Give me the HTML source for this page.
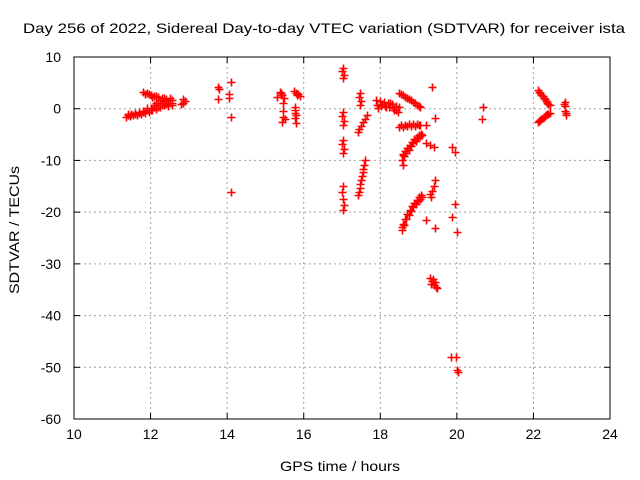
<!DOCTYPE html>
<html><head><meta charset="utf-8"><style>
body{margin:0;background:#fff;}
svg{display:block;font-family:"Liberation Sans",sans-serif;}
</style></head><body>
<svg id="chart" width="640" height="480" viewBox="0 0 640 480">
<rect width="640" height="480" fill="#fff"/>
<text x="324" y="33" font-size="14" text-anchor="middle" textLength="602" lengthAdjust="spacingAndGlyphs">Day 256 of 2022, Sidereal Day-to-day VTEC variation (SDTVAR) for receiver ista</text>
<text x="340" y="471" font-size="14" text-anchor="middle" textLength="120" lengthAdjust="spacingAndGlyphs">GPS time / hours</text>
<text x="0" y="0" font-size="14" text-anchor="middle" textLength="128" lengthAdjust="spacingAndGlyphs" transform="translate(19,230) rotate(-90)">SDTVAR / TECUs</text>
<g id="grid"></g><g id="axes"></g><g id="marks"></g>
</svg>
<script>
const xTicks=[10,12,14,16,18,20,22,24];
const yTicks=[10,0,-10,-20,-30,-40,-50,-60];
const hours=[
11.35,11.45,11.55,11.65,11.75,11.85,11.95,12.05,12.15,12.25,12.35,12.45,12.55,11.4,11.6,11.8,12.0,12.2,12.4,12.55,12.5,11.9,12.1,11.5,11.7,12.3,12.45,
11.4,11.5,11.6,11.7,11.8,11.9,12.0,12.1,12.2,12.3,12.4,12.5,12.55,12.35,12.15,
11.8,11.9,12.0,12.1,12.2,12.3,12.4,12.5,11.85,12.05,12.25,11.95,12.15,12.35,
12.85,12.85,12.8,12.9,
13.76,13.76,13.78,14.1,14.05,14.05,14.1,14.1,
15.38,15.43,15.48,15.3,15.46,15.46,15.46,15.44,15.5,15.41,
15.75,15.8,15.85,15.9,15.78,15.78,15.78,15.8,15.76,15.8,15.83,
17.02,17.0,17.04,17.02,17.47,17.45,17.5,17.47,17.02,17.0,17.04,17.02,
17.65,17.6,17.55,17.5,17.45,17.42,17.02,17.0,17.04,17.02,
17.6,17.58,17.56,17.54,17.52,17.5,17.48,17.46,17.44,17.42,
17.02,17.0,17.02,17.04,17.02,
17.9,18.0,18.1,18.2,18.3,18.4,18.5,17.95,18.15,18.35,18.45,18.05,18.25,17.92,18.02,18.12,18.22,18.32,18.42,
18.5,18.6,18.7,18.8,18.9,19.0,19.04,19.35,19.43,18.55,18.65,18.75,18.85,18.95,
18.5,18.6,18.7,18.8,18.9,19.0,19.04,19.2,18.55,18.65,18.75,18.85,18.95,
18.56,18.62,18.68,18.74,18.8,18.86,18.92,18.98,19.04,19.09,18.6,18.6,18.59,18.65,18.71,18.77,18.83,18.89,18.95,19.01,19.07,
19.2,19.3,19.4,19.87,19.95,
18.56,18.62,18.68,18.74,18.8,18.86,18.92,18.98,19.04,19.09,18.58,18.59,18.65,18.71,18.77,18.83,18.89,18.95,19.01,19.07,
19.43,19.4,19.36,19.32,19.3,19.2,19.43,19.87,19.95,20.0,
20.68,20.65,
22.12,22.18,22.24,22.3,22.36,22.43,22.12,22.18,22.24,22.3,22.36,22.43,22.15,22.21,22.27,22.33,22.39,22.15,22.21,22.27,22.33,22.39,
22.82,22.82,22.82,22.85,22.8,22.84,
19.3,19.35,19.4,19.45,19.48,19.33,19.38,19.43,19.85,19.98,20.0,20.02
];
const values=[
-1.6,-1.5,-1.3,-1.2,-1.0,-0.8,-0.6,-0.3,0,0.4,0.8,1.2,1.6,-1.0,-0.8,-0.5,0.1,0.7,1.5,0.8,2.0,0.2,0.8,-1.1,-0.9,1.1,0.6,
-1.2,-1.0,-1.0,-0.7,-0.7,-0.3,-0.2,0.3,0.3,0.7,1.0,1.6,1.2,1.5,1.2,
3.2,3.0,2.7,2.4,2.2,2.0,1.8,1.7,2.8,2.2,1.6,2.9,2.4,2.0,
1.8,1.2,0.9,1.4,
4.2,1.9,3.8,5.1,2.8,2.1,-1.6,-16.2,
3.2,2.7,2.0,2.3,1.1,-0.5,-1.6,-2.6,-2.0,3.0,
3.4,3.1,2.8,2.5,0.3,-0.8,-1.8,-2.8,-0.3,-1.3,2.7,
7.9,7.2,6.6,6.0,3.0,2.2,1.5,0.7,-0.6,-1.5,-2.4,-3.2,
-1.2,-1.9,-2.6,-3.3,-3.9,-4.5,-6.0,-6.9,-7.8,-8.6,
-10,-10.8,-11.6,-12.3,-13.1,-13.8,-14.6,-15.4,-16.1,-16.7,
-15,-16.2,-17.4,-18.6,-19.6,
1.7,1.5,1.3,1.1,0.9,0.6,0.3,0.2,0.3,-0.3,-0.6,1.0,1.2,0.8,0.6,0.5,0.4,0.1,-0.2,
3.0,2.6,2.1,1.6,1.1,0.6,0.3,4.2,-1.8,2.8,2.3,1.8,1.3,0.8,
-3.6,-3.5,-3.4,-3.3,-3.3,-3.2,-3.2,-3.2,-3.2,-3.1,-3.0,-3.0,-2.9,
-10,-9.2,-8.5,-7.9,-7.3,-6.7,-6.2,-5.7,-5.3,-5.1,-10.9,-8.8,-9.0,-8.2,-7.6,-7.0,-6.4,-5.9,-5.4,-5.0,-4.8,
-6.7,-7.1,-7.4,-7.4,-8.4,
-23.5,-22.4,-21.4,-20.5,-19.7,-19.0,-18.4,-17.9,-17.4,-17.1,-22.8,-22.3,-21.3,-20.4,-19.6,-18.9,-18.2,-17.6,-17.1,-16.7,
-13.8,-15.0,-16.0,-17.1,-16.5,-21.5,-23.1,-20.9,-18.4,-23.9,
0.4,-2.0,
3.6,3.0,2.4,1.8,1.2,0.7,-2.6,-2.2,-1.8,-1.4,-1.1,-0.9,3.3,2.7,2.1,1.5,1.0,-2.4,-2.0,-1.6,-1.2,-1.0,
1.3,0.5,-0.4,-1.2,1.0,-0.9,
-32.8,-33.4,-34.0,-34.5,-34.7,-33.9,-33.0,-33.6,-48,-48,-50.5,-51
];
const X0=74,X1=610,Y0=57,Y1=419;
function xs(h){return X0+(h-10)/14*(X1-X0);}
function ys(v){return Y0+(10-v)/70*(Y1-Y0);}
const NS='http://www.w3.org/2000/svg';
function mk(tag,attrs,parent){const e=document.createElementNS(NS,tag);for(const k in attrs)e.setAttribute(k,attrs[k]);parent.appendChild(e);return e;}
const grid=document.getElementById('grid'),axes=document.getElementById('axes'),marks=document.getElementById('marks');
xTicks.forEach(t=>{
  const x=xs(t);
  if(t>10&&t<24){const g=mk('line',{x1:x,x2:x,y1:Y0,y2:Y1,stroke:'#a0a0a0','stroke-dasharray':'2,3'},grid);
  
  }
  mk('line',{x1:x,x2:x,y1:Y1,y2:Y1-6,stroke:'#000'},axes);
  mk('line',{x1:x,x2:x,y1:Y0,y2:Y0+6,stroke:'#000'},axes);
  const l=mk('text',{x:x,y:Y1+20,'font-size':14,'text-anchor':'middle'},axes);
  l.textContent=t;
  
  
});
yTicks.forEach(t=>{
  const y=ys(t);
  if(t<10&&t>-60){const g=mk('line',{x1:X0,x2:X1,y1:y,y2:y,stroke:'#a0a0a0','stroke-dasharray':'2,3'},grid);
  
  }
  mk('line',{x1:X0,x2:X0+6,y1:y,y2:y,stroke:'#000'},axes);
  mk('line',{x1:X1,x2:X1-6,y1:y,y2:y,stroke:'#000'},axes);
  const l=mk('text',{x:X0-13,y:y+5,'font-size':14,'text-anchor':'end'},axes);
  l.textContent=t;
  
  
});
const frame=mk('rect',{x:X0,y:Y0,width:X1-X0,height:Y1-Y0,fill:'none',stroke:'#000'},axes);


let d='';
for(let i=0;i<hours.length;i++){
  const x=Math.round(xs(hours[i]))+0.5,y=Math.round(ys(values[i]))+0.5;
  d+='M'+(x-4)+' '+y+'h8M'+x+' '+(y-4)+'v8';
}
const p=mk('path',{d:d,stroke:'#ff0000','stroke-width':1.6,fill:'none'},marks);


</script>
</body></html>
